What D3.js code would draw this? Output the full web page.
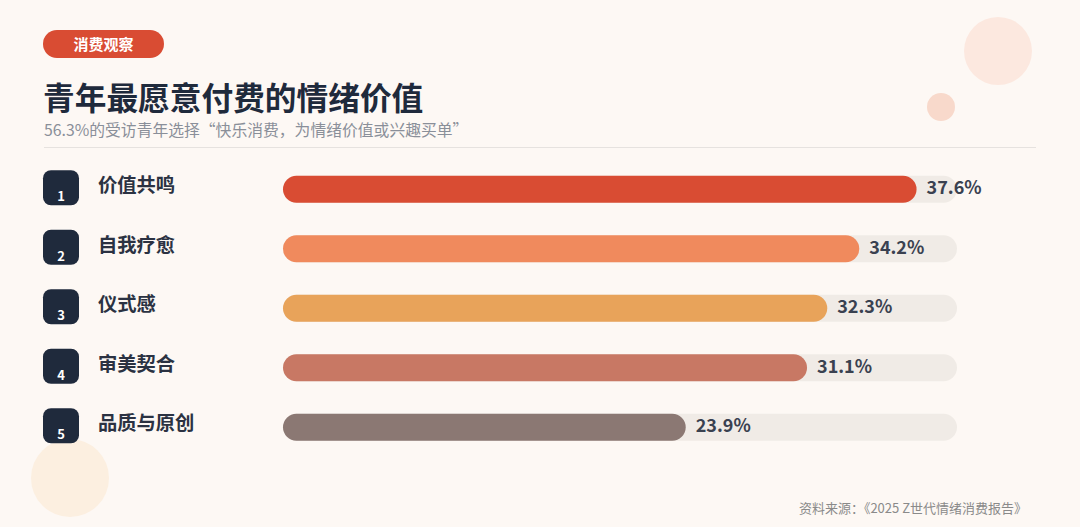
<!DOCTYPE html>
<html><head><meta charset="utf-8">
<script src="https://cdn.jsdelivr.net/npm/d3@7"></script>
<style>
html,body{margin:0;padding:0;background:#fdf8f4;}
svg{display:block;font-family:"Noto Sans CJK SC","Noto Sans",sans-serif;}
</style></head>
<body>
<svg id="c" width="1080" height="527"></svg>
<script>
const categories = ["价值共鸣","自我疗愈","仪式感","审美契合","品质与原创"];
const values = [37.6, 34.2, 32.3, 31.1, 23.9];
const ranks = ["1","2","3","4","5"];
const colors = ["#d94c33","#f08a5d","#e8a35a","#c87864","#8b7873"];
const maxValue = 40;

const svg = d3.select("#c");
svg.append("rect").attr("width",1080).attr("height",527).attr("fill","#fdf8f4");

// decorative circles
svg.append("circle").attr("cx",998).attr("cy",51).attr("r",34).attr("fill","#fce8df");
svg.append("circle").attr("cx",941).attr("cy",107).attr("r",14).attr("fill","#f8d9cb");
svg.append("circle").attr("cx",70).attr("cy",478).attr("r",39).attr("fill","#fcefe0");

// tag
svg.append("rect").attr("x",43).attr("y",30).attr("width",121).attr("height",28).attr("rx",14).attr("fill","#d94c33");
svg.append("text").attr("x",103.5).attr("y",50).attr("text-anchor","middle").attr("fill","#fff")
  .attr("font-size",15).attr("font-weight",700).text("消费观察");

// title
svg.append("text").attr("x",43).attr("y",110).attr("fill","#1f2a3c").attr("font-size",31.7).attr("font-weight",700)
  .text("青年最愿意付费的情绪价值");
svg.append("text").attr("x",44).attr("y",136).attr("fill","#8a8f99").attr("font-size",15.8)
  .text("56.3%的受访青年选择“快乐消费，为情绪价值或兴趣买单”");
svg.append("line").attr("x1",44).attr("x2",1036).attr("y1",147.5).attr("y2",147.5).attr("stroke","#e6e2df").attr("stroke-width",1);

const x = d3.scaleLinear().domain([0,maxValue]).range([283,957]);
const y = d3.scaleBand().domain(categories).range([159.5,457]).padding(0);
const barH = 27;

const rows = svg.selectAll("g.row").data(categories).enter().append("g").attr("class","row")
  .attr("transform",d=>`translate(0,${y(d)+y.bandwidth()/2})`);

// badges
rows.append("rect").attr("x",43).attr("y",-19).attr("width",36).attr("height",35).attr("rx",8).attr("fill","#1f2a3c");
rows.append("text").attr("x",61).attr("y",12).attr("text-anchor","middle").attr("fill","#fff")
  .attr("font-size",13).attr("font-weight",700).text((d,i)=>ranks[i]);

// labels
rows.append("text").attr("x",98).attr("y",3).attr("fill","#2b3242").attr("font-size",19.3).attr("font-weight",700).text(d=>d);

// tracks
rows.append("rect").attr("x",x(0)).attr("y",-barH/2).attr("width",x(maxValue)-x(0)).attr("height",barH)
  .attr("rx",barH/2).attr("fill","#f0ebe6");
// bars
rows.append("rect").attr("x",x(0)).attr("y",-barH/2).attr("width",(d,i)=>x(values[i])-x(0)).attr("height",barH)
  .attr("rx",barH/2).attr("fill",(d,i)=>colors[i]);
// values
rows.append("text").attr("x",(d,i)=>x(values[i])+10).attr("y",5).attr("fill","#3a4150")
  .attr("font-size",18).attr("font-weight",700).text((d,i)=>values[i].toFixed(1)+"%");

// source
svg.append("text").attr("x",1027).attr("y",513).attr("text-anchor","end").attr("fill","#8a8a8a").attr("font-size",13)
  .text("资料来源：《2025 Z世代情绪消费报告》");
</script>
</body></html>
